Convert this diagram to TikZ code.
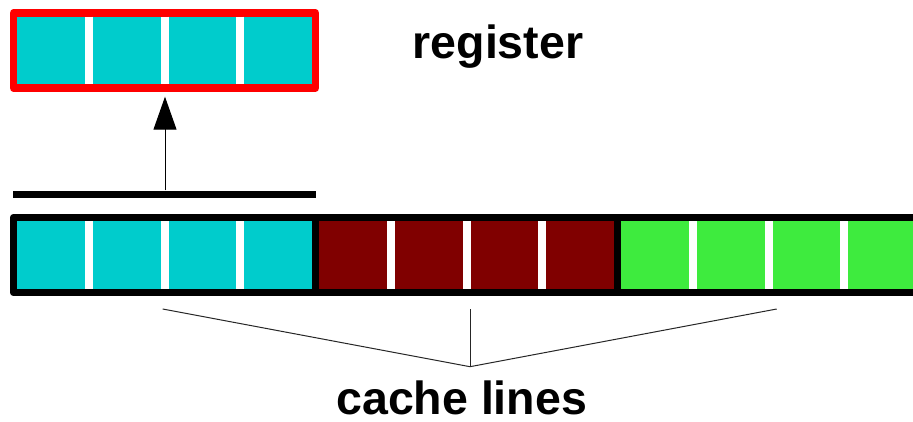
\documentclass[tikz,border=0pt]{standalone}
\usepackage{fontspec}
\setmainfont{Liberation Sans}
\usetikzlibrary{arrows.meta}
\definecolor{cellcyan}{RGB}{0,204,204}
\definecolor{celldred}{RGB}{128,0,0}
\definecolor{cellgreen}{RGB}{62,235,62}
\definecolor{regred}{RGB}{255,0,0}
\tikzset{
  linebox/.style={draw=black, line width=7.5pt, line join=round, minimum width=302pt, minimum height=75pt, inner sep=0pt, outer sep=0pt},
  divider/.style={white, line width=8pt},
  label/.style={font=\fontsize{46.5}{50}\selectfont\bfseries, anchor=base, inner sep=0pt},
  brace/.style={line width=1pt, black!85}
}
\newcommand{\dividers}[1]{%
  \foreach \k in {1,2,3} {
    \draw[divider] ([xshift=\k*75.5pt, yshift=-3.75pt]#1.north west) -- ([xshift=\k*75.5pt, yshift=3.75pt]#1.south west);
  }%
}
\begin{document}
\begin{tikzpicture}[x=1pt, y=-1pt]
\useasboundingbox (0,0) rectangle (913,422);
\begin{scope}
\clip (0,0) rectangle (913,422);
% register
\node[linebox, draw=regred, fill=cellcyan] (reg) at (164.5,50.5) {};
\dividers{reg}
% cache lines
\node[linebox, fill=cellcyan] (c1) at (164.5,255) {};
\node[linebox, fill=celldred] (c2) at (466.5,255) {};
\node[linebox, fill=cellgreen] (c3) at (768.5,255) {};
\dividers{c1}
\dividers{c2}
\dividers{c3}
% redraw shared borders on top
\draw[line width=7.5pt] (c1.north east) -- (c1.south east);
\draw[line width=7.5pt] (c2.north east) -- (c2.south east);
\end{scope}
% load bar
\coordinate (barL) at (13,194.3);
\coordinate (barR) at (316,194.3);
\draw[line width=7.5pt] (barL) -- (barR);
\coordinate (barM) at (165,190.5);
\coordinate (regin) at (165,96.7);
\draw[line width=1pt, -{Triangle[width=23pt,length=33pt]}] (barM) -- (regin);
% labels
\node[label] (regl) at (498,59) {register};
\node[label] (cll) at (461.7,414.5) {cache lines};
% brace lines
\coordinate (meet) at (470,366.7);
\coordinate (p1) at (162.7,309);
\coordinate (p2) at (470,309);
\coordinate (p3) at (776.7,309);
\draw[brace] (p1) -- (meet) -- (p3);
\draw[brace] (p2) -- (meet);
\end{tikzpicture}
\end{document}
